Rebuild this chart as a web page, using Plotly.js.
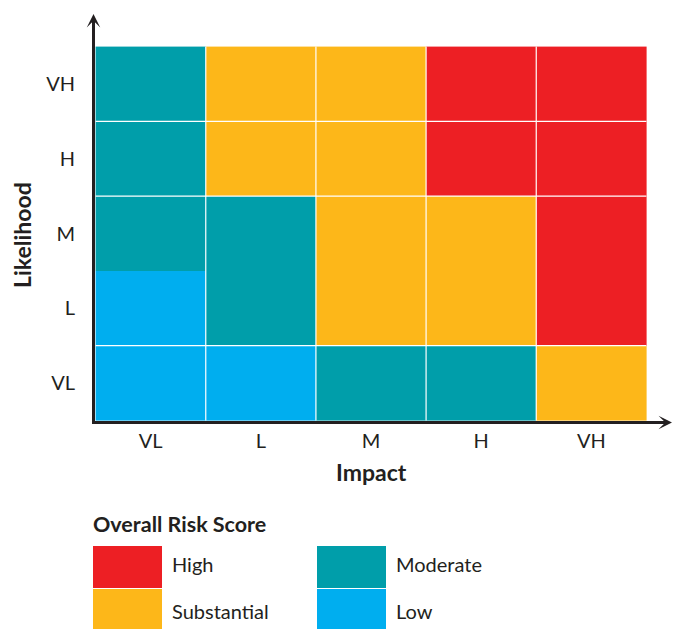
<!DOCTYPE html>
<html>
<head>
<meta charset="utf-8">
<script src="https://cdn.plot.ly/plotly-3.0.1.min.js"></script>
<style>html,body{margin:0;padding:0;background:#fff;}#chart{width:673px;height:629px;}</style>
</head>
<body>
<div id="chart"></div>
<script>
// ---- data ----
var impactLevels = ['VL', 'L', 'M', 'H', 'VH'];
var likelihoodLevels = ['VL', 'L', 'M', 'H', 'VH'];
var riskCategories = ['Low', 'Moderate', 'Substantial', 'High'];
var riskColors = ['#00AEEF', '#009EAA', '#FDB719', '#ED1F24'];
// rows bottom (VL) -> top (VH), columns VL -> VH impact
var rowVL = ['Low', 'Low', 'Moderate', 'Moderate', 'Substantial'];
var rowL  = ['Low', 'Moderate', 'Substantial', 'Substantial', 'High'];
var rowM  = ['Moderate', 'Moderate', 'Substantial', 'Substantial', 'High'];
var rowH  = ['Moderate', 'Substantial', 'Substantial', 'High', 'High'];
var rowVH = ['Moderate', 'Substantial', 'Substantial', 'High', 'High'];
var legendOrder = ['High', 'Substantial', 'Moderate', 'Low'];

// ---- build ----
var rows = [rowVL, rowL, rowM, rowH, rowVH];
var z = rows.map(function (r) { return r.map(function (c) { return riskCategories.indexOf(c); }); });
var n = riskCategories.length;
var colorscale = [];
riskColors.forEach(function (col, i) {
  colorscale.push([i / n, col]);
  colorscale.push([(i + 1) / n, col]);
});

var W = 673, H = 629;
var L = 95, T = 46, PW = 552, PH = 375;
function px(x) { return (x - L) / PW; }
function py(y) { return (T + PH - y) / PH; }
var FONT = 'Lato, "Open Sans", sans-serif';
var DARK = '#231F20';

var shapes = [];
// white cell dividers
[0.5, 1.5, 2.5, 3.5].forEach(function (v) {
  shapes.push({type: 'line', xref: 'x', yref: 'y', x0: v, x1: v, y0: -0.5, y1: 4.5,
    line: {color: '#fff', width: 1.2}, layer: 'above'});
});
[0.5, 2.5, 3.5].forEach(function (v) {
  shapes.push({type: 'line', xref: 'x', yref: 'y', y0: v, y1: v, x0: -0.5, x1: 4.5,
    line: {color: '#fff', width: 1.2}, layer: 'above'});
});

var annotations = [];
// axis arrows
annotations.push({xref: 'paper', yref: 'paper', x: 0, y: py(14), xshift: -1.5,
  ax: 0, ay: 45, text: '', showarrow: true, arrowhead: 3, arrowsize: 0.75,
  arrowwidth: 3, arrowcolor: DARK});
annotations.push({xref: 'paper', yref: 'paper', x: px(673), y: 0, yshift: -1.5,
  ax: -45, ay: 0, text: '', showarrow: true, arrowhead: 3, arrowsize: 0.75,
  arrowwidth: 3, arrowcolor: DARK});

// axis titles
annotations.push({xref: 'paper', yref: 'paper', x: px(371), y: py(472), xanchor: 'center', yanchor: 'middle',
  text: '<b>Impact</b>', showarrow: false, font: {family: FONT, size: 23, color: DARK}});
annotations.push({xref: 'paper', yref: 'paper', x: px(22), y: py(235), xanchor: 'center', yanchor: 'middle',
  textangle: -90, text: '<b>Likelihood</b>', showarrow: false, font: {family: FONT, size: 23, color: DARK}});

// legend
annotations.push({xref: 'paper', yref: 'paper', x: px(91), y: py(524), xanchor: 'left', yanchor: 'middle',
  text: '<b>Overall Risk Score</b>', showarrow: false, font: {family: FONT, size: 21.5, color: DARK}});
var swX = [93, 93, 317, 317];
var swY = [546, 589, 546, 589];
var labY = [564, 611, 564, 611];
legendOrder.forEach(function (name, i) {
  var col = riskColors[riskCategories.indexOf(name)];
  shapes.push({type: 'rect', xref: 'paper', yref: 'paper',
    x0: px(swX[i]), x1: px(swX[i] + 69), y0: py(swY[i]), y1: py(swY[i] + 42),
    fillcolor: col, line: {width: 0}});
  annotations.push({xref: 'paper', yref: 'paper', x: px(swX[i] + 77), y: py(labY[i]),
    xanchor: 'left', yanchor: 'middle', text: name, showarrow: false,
    font: {family: FONT, size: 20, color: DARK}});
});

var trace = {
  type: 'heatmap',
  x: impactLevels,
  y: likelihoodLevels,
  z: z,
  zmin: -0.5, zmax: n - 0.5,
  colorscale: colorscale,
  showscale: false,
  hoverinfo: 'skip'
};

var layout = {
  width: W, height: H,
  margin: {l: L, t: T, r: W - L - PW, b: H - T - PH, pad: 0},
  paper_bgcolor: '#fff', plot_bgcolor: '#fff',
  font: {family: FONT, color: DARK},
  xaxis: {type: 'category', showgrid: false, zeroline: false, showline: true, linewidth: 3, linecolor: DARK,
    ticks: '', tickfont: {family: FONT, size: 20, color: DARK}, ticklabelstandoff: 0,
    fixedrange: true},
  yaxis: {type: 'category', showgrid: false, zeroline: false, showline: true, linewidth: 3, linecolor: DARK,
    ticks: '', tickfont: {family: FONT, size: 20, color: DARK}, ticklabelstandoff: 13,
    fixedrange: true},
  shapes: shapes,
  annotations: annotations,
  showlegend: false
};

Plotly.newPlot('chart', [trace], layout, {displayModeBar: false, staticPlot: true});
</script>
</body>
</html>
